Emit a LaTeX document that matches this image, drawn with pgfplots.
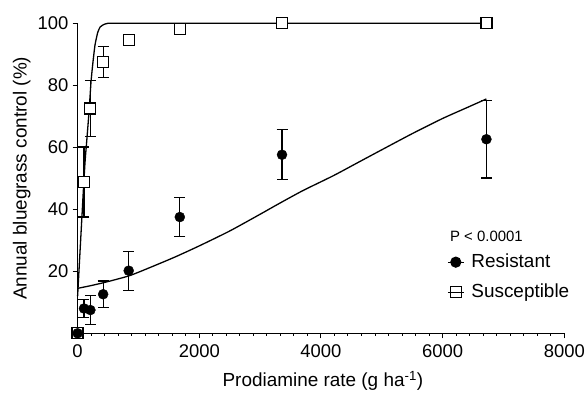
\documentclass[border=0pt]{standalone}
\usepackage{pgfplots}
\pgfplotsset{compat=1.18}
\usepackage{fontspec}
\setmainfont{Liberation Sans}
\begin{document}
\begin{tikzpicture}
\useasboundingbox (-77.6bp,-61.7bp) rectangle (509.4bp,333.3bp);
\begin{axis}[
  at={(0,0)}, anchor=south west,
  width=486.7bp, height=310bp, scale only axis,
  xmin=0, xmax=8000, ymin=0, ymax=100,
  axis lines=left, axis line style={-, line width=1.1bp},
  clip=false,
  xtick={0,2000,4000,6000,8000},
  minor x tick num=8,
  ytick={20,40,60,80,100},
  tick align=outside,
  major tick length=5bp, minor tick length=2.5bp,
  tick style={black, line width=1bp},
  scaled ticks=false,
  /pgf/number format/assume math mode=true,
  /pgf/number format/1000 sep={},
  ticklabel style={font=\fontsize{18.5}{22}\selectfont},
  xticklabel style={inner sep=0pt, yshift=-6bp},
  yticklabel style={inner sep=0pt, xshift=-4bp},
  xlabel={Prodiamine rate (g ha\textsuperscript{-1})},
  ylabel={Annual bluegrass control (\%)},
  label style={font=\fontsize{19}{23}\selectfont},
  xlabel style={at={(axis description cs:0.504,-0.154)}, anchor=center},
  ylabel style={at={(axis description cs:-0.115,0.5)}, anchor=center, rotate=0},
  legend style={draw=none, fill=none, at={(axis description cs:0.759,0.264)}, anchor=north west,
    font=\fontsize{19}{23}\selectfont, inner sep=0pt, row sep=9bp, column sep=5bp,
    nodes={inner sep=2bp, text height=13.5bp, text depth=3.5bp}},
  legend cell align=left,
  legend image code/.code={\draw[mark repeat=2,mark phase=2,#1] plot coordinates {(0bp,0bp) (8bp,0bp) (16bp,0bp)};},
]
% Susceptible data
\addplot[forget plot, only marks, mark=square*, mark size=5.5bp, mark options={fill=white, draw=black, line width=1.2bp},
  error bars/.cd, y dir=both, y explicit, error mark=|, error bar style={black, line width=1.2bp}, error mark options={black, line width=1.2bp, mark size=5.5bp}]
  table[x=x, y=y, y error=e] {
x y e
0 0 0
105 48.8 11.3
210 72.5 9.1
420 87.5 4.9
840 94.5 1.4
1680 98.2 0.5
3360 100 0
6720 100 0
};
% Resistant data
\addplot[forget plot, only marks, mark=*, mark size=5bp, mark options={fill=black, draw=black},
  error bars/.cd, y dir=both, y explicit, error mark=|, error bar style={black, line width=1.2bp}, error mark options={black, line width=1.2bp, mark size=5.5bp}]
  table[x=x, y=y, y error=e] {
x y e
0 0 0
105 8 3
210 7.5 4.6
420 12.6 4.3
840 20.2 6.3
1680 37.5 6.4
3360 57.6 8.1
6720 62.6 12.5
};
% Susceptible fitted curve
\addplot[forget plot, black, line width=1.3bp, smooth, tension=0.3] coordinates {
(0,12) (25,21) (50,30) (75,39) (100,48) (125,56) (150,62) (190,72) (220,81) (250,87) (286,93) (330,97) (370,98.8) (430,99.6) (500,100) (700,100) (2000,100) (6720,100)
};
% Resistant fitted curve
\addplot[forget plot, black, line width=1.3bp, smooth, tension=0.4] coordinates {
(0,14.5) (200,15.3) (400,16.2) (600,17.2) (870,18.7) (1200,21.3) (1600,24.6) (2000,28.2) (2500,33) (3000,38.4) (3280,41.5) (3700,46) (4200,50.8) (4600,55) (5000,59.2) (5500,64.4) (6000,69.3) (6400,72.8) (6720,75.6)
};
\addlegendimage{black, line width=1.2bp, mark=*, mark size=5bp, mark options={fill=black}}
\addlegendentry{Resistant}
\addlegendimage{black, line width=1.2bp, mark=square, mark size=5.5bp}
\addlegendentry{Susceptible}
\node[anchor=west, inner sep=0pt, font=\fontsize{15}{18}\selectfont] at (axis cs:6120,31.4) {P < 0.0001};
\end{axis}
\end{tikzpicture}
\end{document}
